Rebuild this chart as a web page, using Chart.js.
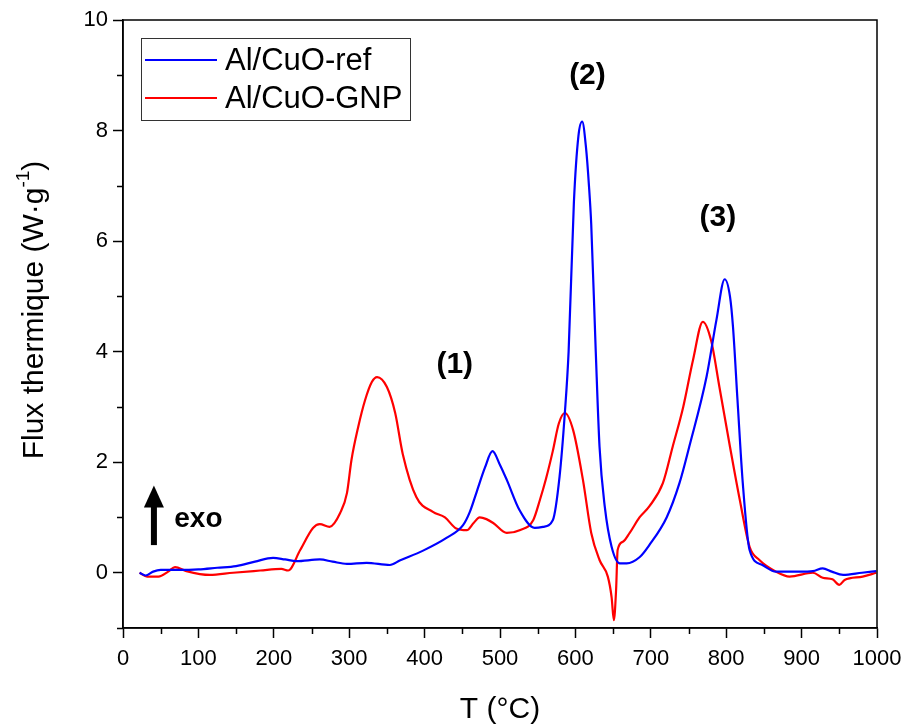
<!DOCTYPE html>
<html>
<head>
<meta charset="utf-8">
<script src="https://cdn.jsdelivr.net/npm/chart.js@4.4.1/dist/chart.umd.min.js"></script>
<style>
  html, body { margin: 0; padding: 0; background: #fff; }
  #wrap { width: 907px; height: 727px; }
</style>
</head>
<body>
<div id="wrap"><canvas id="c" width="907" height="727"></canvas></div>
<script>
// ---- data ----
const seriesLabels = ['Al/CuO-ref', 'Al/CuO-GNP'];
const tempRef = [22, 30, 40, 50, 75, 100, 125, 150, 175, 199, 215, 230, 261, 278, 297, 323, 354, 367, 398, 429, 451, 460, 469, 480, 490, 500, 509, 526, 546, 557, 570, 579, 586, 591, 598, 604, 609, 614, 618, 621, 627, 632, 639, 648, 659, 668, 685, 698, 721, 738, 751, 774, 787, 798, 805, 809, 815, 822, 831, 848, 866, 897, 915, 928, 940, 955, 980, 999];
const fluxRef = [0.0, -0.05, 0.02, 0.05, 0.05, 0.06, 0.09, 0.12, 0.2, 0.27, 0.24, 0.21, 0.24, 0.2, 0.16, 0.18, 0.14, 0.22, 0.4, 0.63, 0.86, 1.1, 1.46, 1.9, 2.2, 1.95, 1.68, 1.13, 0.81, 0.83, 0.95, 1.74, 2.89, 4.0, 6.7, 7.9, 8.16, 7.7, 7.0, 6.3, 4.0, 2.28, 1.19, 0.47, 0.17, 0.17, 0.28, 0.5, 1.0, 1.62, 2.28, 3.55, 4.57, 5.31, 5.0, 4.45, 3.12, 1.62, 0.41, 0.14, 0.02, 0.02, 0.03, 0.08, 0.02, -0.04, 0.0, 0.03];
const tempGnp = [22, 32, 47, 60, 69, 84, 115, 146, 182, 210, 219, 235, 252, 261, 274, 288, 297, 303, 312, 321, 330, 337, 350, 361, 371, 389, 411, 427, 442, 456, 465, 473, 482, 491, 509, 526, 544, 553, 561, 570, 578, 586, 597, 610, 621, 632, 643, 648, 651, 654, 656, 663, 672, 685, 698, 716, 729, 743, 756, 769, 780, 791, 805, 818, 831, 844, 866, 884, 915, 928, 941, 950, 957, 981, 999];
const fluxGnp = [0.0, -0.07, -0.07, 0.02, 0.1, 0.03, -0.04, 0.0, 0.04, 0.07, 0.04, 0.41, 0.81, 0.88, 0.83, 1.08, 1.44, 2.04, 2.64, 3.12, 3.45, 3.54, 3.36, 2.89, 2.15, 1.37, 1.1, 1.0, 0.8, 0.77, 0.9, 1.0, 0.97, 0.9, 0.72, 0.77, 0.95, 1.32, 1.7, 2.2, 2.7, 2.89, 2.58, 1.68, 0.72, 0.23, -0.07, -0.44, -0.86, -0.3, 0.41, 0.56, 0.72, 1.0, 1.2, 1.62, 2.28, 3.0, 3.85, 4.54, 4.2, 3.36, 2.28, 1.32, 0.47, 0.23, 0.02, -0.07, 0.0, -0.09, -0.12, -0.22, -0.13, -0.07, 0.0];
const xTickValues = [0, 100, 200, 300, 400, 500, 600, 700, 800, 900, 1000];
const yTickValues = [0, 2, 4, 6, 8, 10];
const peakLabels = ['(1)', '(2)', '(3)'];
const xTitle = 'T (°C)';
const yTitleMain = 'Flux thermique (W·g';
const yTitleSup = '-1';
const yTitleEnd = ')';
const exoLabel = 'exo';

const FONT = '"Liberation Sans", Arial, Helvetica, sans-serif';

function pts(xs, ys) { return xs.map((x, i) => ({ x: x, y: ys[i] })); }

const framePlugin = {
  id: 'frame',
  afterDraw(chart) {
    const ctx = chart.ctx;
    const a = chart.chartArea;
    const xs = chart.scales.x, ys = chart.scales.y;
    ctx.save();
    ctx.strokeStyle = '#000';
    ctx.lineWidth = 1.5;
    ctx.strokeRect(a.left, a.top, a.right - a.left, a.bottom - a.top);
    // minor ticks
    ctx.beginPath();
    for (let i = 0; i < xTickValues.length - 1; i++) {
      const v = (xTickValues[i] + xTickValues[i + 1]) / 2;
      const px = Math.round(xs.getPixelForValue(v)) + 0.5;
      ctx.moveTo(px, a.bottom); ctx.lineTo(px, a.bottom + 6);
    }
    const yMinor = [-1];
    for (let i = 0; i < yTickValues.length - 1; i++) yMinor.push((yTickValues[i] + yTickValues[i + 1]) / 2);
    yMinor.forEach(v => {
      const py = Math.round(ys.getPixelForValue(v)) + 0.5;
      ctx.moveTo(a.left, py); ctx.lineTo(a.left - 6, py);
    });
    ctx.stroke();

    // y title with superscript
    ctx.fillStyle = '#000';
    ctx.save();
    const cx = 35, cy = (a.top + a.bottom) / 2 - 14;
    ctx.translate(cx, cy);
    ctx.rotate(-Math.PI / 2);
    ctx.font = '30px ' + FONT;
    const w1 = ctx.measureText(yTitleMain).width;
    ctx.font = '19px ' + FONT;
    const w2 = ctx.measureText(yTitleSup).width;
    ctx.font = '30px ' + FONT;
    const w3 = ctx.measureText(yTitleEnd).width;
    const total = w1 + w2 + w3;
    let x0 = -total / 2;
    ctx.textBaseline = 'middle';
    ctx.textAlign = 'left';
    ctx.fillText(yTitleMain, x0, 0);
    ctx.font = '19px ' + FONT;
    ctx.fillText(yTitleSup, x0 + w1, -11);
    ctx.font = '30px ' + FONT;
    ctx.fillText(yTitleEnd, x0 + w1 + w2, 0);
    ctx.restore();

    // peak annotations
    ctx.font = 'bold 30px ' + FONT;
    ctx.textAlign = 'center';
    ctx.textBaseline = 'middle';
    const peakPos = [[440, 3.76], [616, 9.0], [789, 6.42]];
    peakLabels.forEach((t, i) => {
      ctx.fillText(t, xs.getPixelForValue(peakPos[i][0]), ys.getPixelForValue(peakPos[i][1]));
    });

    // exo arrow
    const ax = xs.getPixelForValue(41);
    const yb = ys.getPixelForValue(0.5);
    const yt = ys.getPixelForValue(1.58);
    ctx.fillRect(ax - 3, yt + 18, 6, yb - yt - 18);
    ctx.beginPath();
    ctx.moveTo(ax, yt);
    ctx.lineTo(ax + 10, yt + 22);
    ctx.lineTo(ax - 10, yt + 22);
    ctx.closePath();
    ctx.fill();
    ctx.font = 'bold 28px ' + FONT;
    ctx.textAlign = 'left';
    ctx.fillText(exoLabel, xs.getPixelForValue(68), ys.getPixelForValue(0.97));

    // legend
    const lx = a.left + 18, ly = a.top + 18, lw = 269, lh = 82;
    ctx.lineWidth = 1;
    ctx.strokeStyle = '#333';
    ctx.strokeRect(lx + 0.5, ly + 0.5, lw, lh);
    ctx.font = '31px ' + FONT;
    ctx.textBaseline = 'middle';
    chart.data.datasets.forEach((ds, i) => {
      const yy = ly + 22 + i * 38;
      ctx.strokeStyle = ds.borderColor;
      ctx.lineWidth = 2;
      ctx.beginPath();
      ctx.moveTo(lx + 4, yy); ctx.lineTo(lx + 76, yy);
      ctx.stroke();
      ctx.fillStyle = '#000';
      ctx.fillText(ds.label, lx + 84, yy + 1);
    });
    ctx.restore();
  }
};

new Chart(document.getElementById('c'), {
  type: 'line',
  data: {
    datasets: [
      { label: seriesLabels[0], data: pts(tempRef, fluxRef), borderColor: '#0000ff', borderWidth: 2.2, pointRadius: 0, cubicInterpolationMode: 'monotone', fill: false },
      { label: seriesLabels[1], data: pts(tempGnp, fluxGnp), borderColor: '#ff0000', borderWidth: 2.2, pointRadius: 0, cubicInterpolationMode: 'monotone', fill: false }
    ]
  },
  options: {
    responsive: false,
    animation: false,
    layout: { padding: { top: 20, right: 30, left: 0, bottom: 0 } },
    plugins: { legend: { display: false }, tooltip: { enabled: false } },
    scales: {
      x: {
        type: 'linear', min: 0, max: 1000,
        afterFit(s) { s.height = 99; s.paddingLeft = 0; s.paddingRight = 0; },
        afterBuildTicks(s) { s.ticks = xTickValues.map(v => ({ value: v })); },
        grid: { display: true, drawOnChartArea: false, drawTicks: true, tickLength: 10, tickColor: '#000', tickWidth: 1.5 },
        border: { display: true, color: '#000', width: 1.5 },
        ticks: { color: '#000', font: { family: FONT, size: 22 }, padding: 8, maxRotation: 0, autoSkip: false, callback: v => String(v) },
        title: { display: true, text: xTitle, color: '#000', font: { family: FONT, size: 30, lineHeight: 1 }, padding: { top: 0, bottom: 2 } }
      },
      y: {
        type: 'linear', min: -1, max: 10,
        afterFit(s) { s.width = 123; s.paddingTop = 0; s.paddingBottom = 0; },
        afterBuildTicks(s) { s.ticks = yTickValues.map(v => ({ value: v })); },
        grid: { display: true, drawOnChartArea: false, drawTicks: true, tickLength: 10, tickColor: '#000', tickWidth: 1.5 },
        border: { display: true, color: '#000', width: 1.5 },
        ticks: { color: '#000', font: { family: FONT, size: 22 }, padding: 5, autoSkip: false, callback: v => String(v) }
      }
    }
  },
  plugins: [framePlugin]
});
</script>
</body>
</html>
